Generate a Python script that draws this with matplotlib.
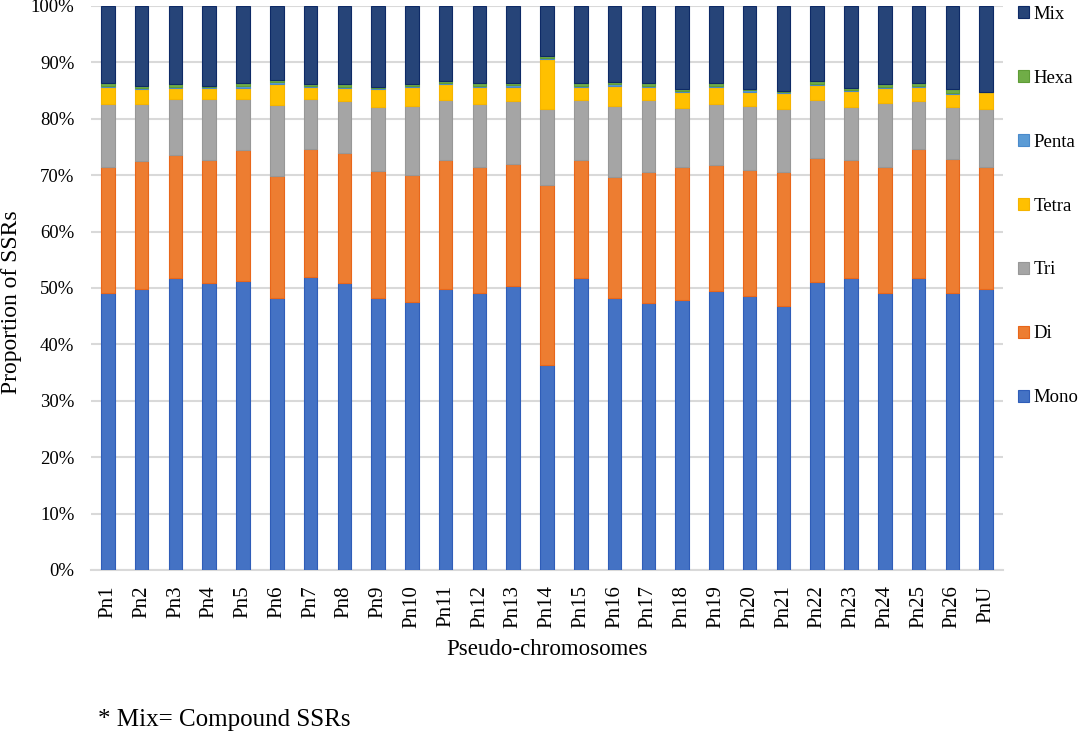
"""Stacked proportion of SSR motif types per pseudo-chromosome (Excel-style bar chart)."""
import matplotlib
matplotlib.use("Agg")
import matplotlib.pyplot as plt
import numpy as np

chromosomes = [f"Pn{i}" for i in range(1, 27)] + ["PnU"]

# percentages, one value per chromosome
mono = [49.2, 49.9, 51.7, 50.9, 51.3, 48.2, 51.9, 50.9, 48.3, 47.6, 49.8, 49.2, 50.4, 36.4,
        51.7, 48.2, 47.4, 47.8, 49.5, 48.5, 46.8, 51.1, 51.7, 49.2, 51.7, 49.1, 49.9]
di = [22.2, 22.6, 21.8, 21.8, 23.1, 21.7, 22.7, 23.1, 22.5, 22.5, 22.9, 22.2, 21.6, 31.8,
      21.0, 21.4, 23.1, 23.6, 22.3, 22.5, 23.7, 22.0, 21.0, 22.2, 22.9, 23.7, 21.5]
tri = [11.3, 10.2, 10.0, 10.8, 9.1, 12.6, 8.9, 9.1, 11.3, 12.2, 10.6, 11.3, 11.1, 13.6,
       10.6, 12.7, 12.8, 10.6, 10.9, 11.3, 11.3, 10.2, 9.4, 11.4, 8.5, 9.3, 10.4]
tetra = [3.0, 2.6, 2.0, 2.0, 2.0, 3.7, 2.2, 2.4, 3.2, 3.4, 2.9, 3.0, 2.6, 8.8,
         2.4, 3.6, 2.4, 2.7, 3.0, 2.4, 2.8, 2.7, 2.9, 2.7, 2.6, 2.3, 2.9]
penta = [0.2, 0.2, 0.2, 0.1, 0.4, 0.3, 0.2, 0.2, 0.1, 0.2, 0.2, 0.2, 0.3, 0.2,
         0.2, 0.2, 0.2, 0.2, 0.2, 0.4, 0.1, 0.2, 0.1, 0.2, 0.2, 0.2, 0.05]
hexa = [0.5, 0.4, 0.5, 0.3, 0.5, 0.4, 0.3, 0.5, 0.3, 0.3, 0.3, 0.5, 0.4, 0.3,
        0.4, 0.5, 0.4, 0.4, 0.4, 0.2, 0.3, 0.5, 0.4, 0.4, 0.4, 0.6, 0.05]
mix = [13.6, 14.1, 13.8, 14.1, 13.6, 13.1, 13.8, 13.8, 14.3, 13.8, 13.3, 13.6, 13.6, 8.9,
       13.7, 13.4, 13.7, 14.7, 13.7, 14.7, 15.0, 13.3, 14.5, 13.9, 13.7, 14.8, 15.2]

series = [("Mono", mono, "#4472C4", "#2F5DB8"),
          ("Di", di, "#ED7D31", "#E8661A"),
          ("Tri", tri, "#A5A5A5", "#979797"),
          ("Tetra", tetra, "#FFC000", "#F5B400"),
          ("Penta", penta, "#5B9BD5", "#4A8ACB"),
          ("Hexa", hexa, "#70AD47", "#5E9C36"),
          ("Mix", mix, "#264478", "#0E2A66")]

plt.rcParams["font.family"] = ["Liberation Serif", "DejaVu Serif"]

fig = plt.figure(figsize=(10.84, 7.37), dpi=100)
ax = fig.add_axes([91 / 1084, 1 - 570 / 737, (1003 - 91) / 1084, (570 - 6) / 737])

x = np.arange(len(chromosomes))
bottom = np.zeros(len(chromosomes))
handles = []
for name, vals, face, edge in series:
    v = np.array(vals, dtype=float)
    h = ax.bar(x, v, width=0.4, bottom=bottom, color=face, edgecolor=edge,
               linewidth=0.8, label=name, zorder=3)
    handles.append(h)
    bottom += v

ax.set_xlim(-0.5, len(chromosomes) - 0.5)
ax.set_ylim(0, 100)
ax.set_yticks(np.arange(0, 101, 10))
ax.set_yticklabels([f"{t}%" for t in range(0, 101, 10)])
ax.set_xticks(x)
ax.set_xticklabels(chromosomes, rotation=90)
ax.tick_params(axis="y", length=0, pad=12, labelsize=13.5)
ax.tick_params(axis="x", length=0, pad=11, labelsize=15)
ax.grid(axis="y", color="#D9D9D9", linewidth=1.5, zorder=0)
for side in ("left", "right", "top"):
    ax.spines[side].set_visible(False)
ax.spines["bottom"].set_color("#D9D9D9")
ax.spines["bottom"].set_linewidth(1.5)

ax.set_xlabel("Pseudo-chromosomes", fontsize=16.5, labelpad=8)
ax.set_ylabel("Proportion of SSRs", fontsize=17)
ax.yaxis.set_label_coords(-69 / 912, 0.475)

ax.legend(handles[::-1], [s[0] for s in series][::-1], loc="upper left",
          bbox_to_anchor=(1018 / 1084, 1 - 6 / 737), bbox_transform=fig.transFigure,
          frameon=False, fontsize=13.5, handlelength=0.6, handleheight=0.6,
          handletextpad=0.25, labelspacing=2.5, borderaxespad=0, borderpad=0)

fig.text(98 / 1084, 1 - 720 / 737, "* Mix= Compound SSRs", fontsize=18, va="center")

fig.savefig("out.png", dpi=100)
